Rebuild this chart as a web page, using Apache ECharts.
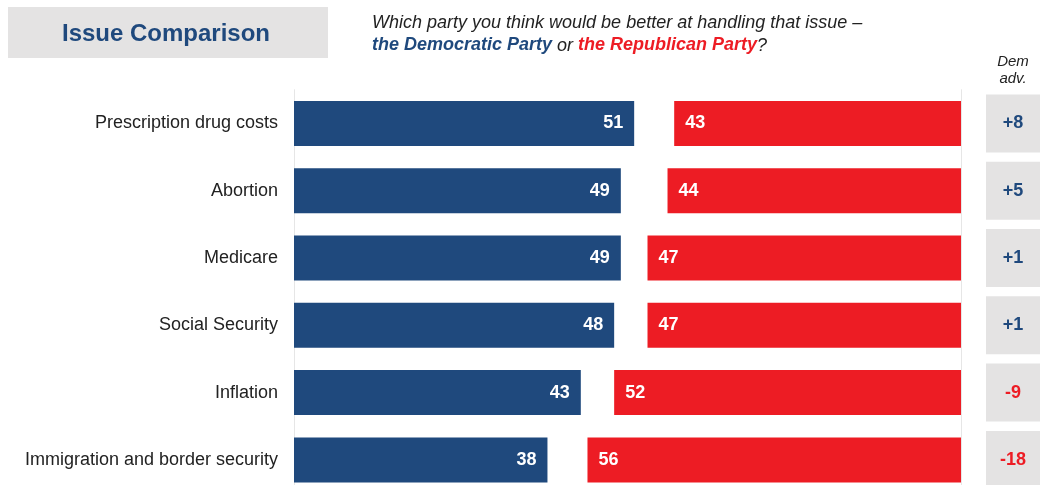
<!DOCTYPE html>
<html><head><meta charset="utf-8">
<script src="https://cdn.jsdelivr.net/npm/echarts@6/dist/echarts.min.js"></script>
<style>html,body{margin:0;padding:0;background:#fff}#c{width:1040px;height:485px}</style>
</head><body><div id="c"></div>
<script>
const categories = ['Prescription drug costs','Abortion','Medicare','Social Security','Inflation','Immigration and border security'];
const demValues = [51,49,49,48,43,38];
const repValues = [43,44,47,47,52,56];
const advLabels = ['+8','+5','+1','+1','-9','-18'];

const BLUE = '#1F497D', RED = '#ED1C24', GREY = '#E4E3E3';
const FONT = 'Liberation Sans, Arial, sans-serif';
const gapValues = demValues.map((d,i)=>100-d-repValues[i]);

const chart = echarts.init(document.getElementById('c'));
chart.setOption({
  animation:false,
  textStyle:{fontFamily:FONT},
  title:[{
    text:'Issue Comparison', left:166, top:34, textAlign:'center', textVerticalAlign:'middle', padding:0,
    textStyle:{fontSize:24,fontWeight:'bold',color:BLUE,fontFamily:FONT}
  },{
    text:'Which party you think would be better at handling that issue –\n{d|the Democratic Party}{i| or }{r|the Republican Party}{i|?}',
    left:372, top:11, padding:0,
    textStyle:{fontSize:18,fontStyle:'italic',fontWeight:'normal',color:'#222',fontFamily:FONT,lineHeight:23,
      rich:{d:{fontSize:18,fontStyle:'italic',fontWeight:'bold',color:BLUE,fontFamily:FONT,lineHeight:23},
            r:{fontSize:18,fontStyle:'italic',fontWeight:'bold',color:RED,fontFamily:FONT,lineHeight:23},
            i:{fontSize:18,fontStyle:'italic',fontWeight:'normal',color:'#222',fontFamily:FONT,lineHeight:23}}}
  },{
    text:'Dem\nadv.', left:1013, top:53, textAlign:'center', padding:0,
    textStyle:{fontSize:15,fontStyle:'italic',fontWeight:'normal',color:'#222',lineHeight:17,fontFamily:FONT}
  }],
  graphic:[{type:'rect',shape:{x:8,y:7,width:320,height:51},style:{fill:GREY},z:-1}],
  grid:[
    {left:294,width:667,top:89.75,height:403.8,outerBoundsMode:'none'},
    {left:986,width:60,top:89.75,height:403.8,outerBoundsMode:'none'}
  ],
  xAxis:[
    {gridIndex:0,type:'value',min:0,max:100,show:false},
    {gridIndex:1,type:'value',min:0,max:1,show:false}
  ],
  yAxis:[
    {gridIndex:0,type:'category',data:categories,inverse:true,
     axisLine:{show:true,lineStyle:{color:'#E6E6E6',width:1}},axisTick:{show:false},
     axisLabel:{fontSize:18,color:'#222',margin:16,fontFamily:FONT}},
    {gridIndex:0,type:'category',data:categories,inverse:true,position:'right',
     axisLine:{show:true,lineStyle:{color:'#E6E6E6',width:1}},axisTick:{show:false},axisLabel:{show:false}},
    {gridIndex:1,type:'category',data:categories,inverse:true,show:false}
  ],
  series:[
    {type:'bar',stack:'a',data:demValues,barWidth:45,itemStyle:{color:BLUE},
     label:{show:true,position:'insideRight',distance:11,color:'#fff',fontSize:18,fontWeight:'bold',fontFamily:FONT}},
    {type:'bar',stack:'a',data:gapValues,barWidth:45,itemStyle:{color:'rgba(0,0,0,0)'},silent:true},
    {type:'bar',stack:'a',data:repValues,barWidth:45,itemStyle:{color:RED},
     label:{show:true,position:'insideLeft',distance:11,color:'#fff',fontSize:18,fontWeight:'bold',fontFamily:FONT}},
    {type:'bar',xAxisIndex:1,yAxisIndex:2,data:advLabels.map(()=>1),barWidth:58,itemStyle:{color:GREY},
     label:{show:true,position:'inside',offset:[-3,0],
       formatter:p=>{const t=advLabels[p.dataIndex];return t.startsWith('-')?'{n|'+t+'}':'{p|'+t+'}';},
       rich:{p:{color:BLUE,fontSize:18,fontWeight:'bold',fontFamily:FONT},
             n:{color:RED,fontSize:18,fontWeight:'bold',fontFamily:FONT}}}}
  ]
});
</script></body></html>
